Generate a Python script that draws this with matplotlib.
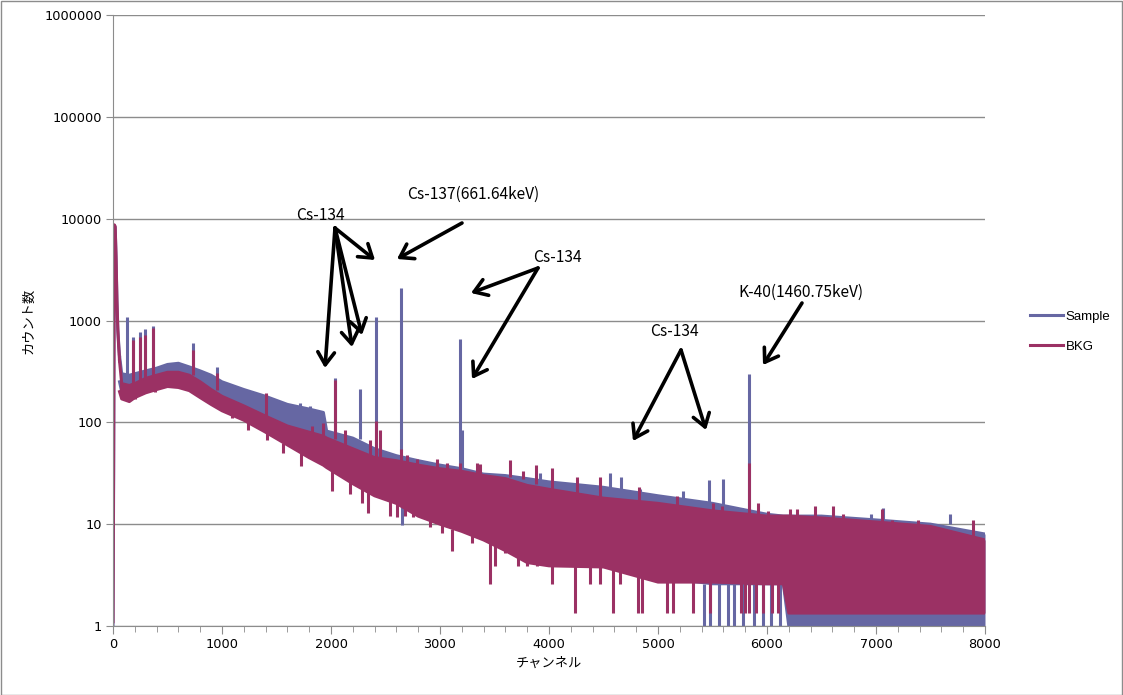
import matplotlib
matplotlib.use("Agg")
import matplotlib.pyplot as plt
from matplotlib.patches import Rectangle
from matplotlib.ticker import FixedLocator, MultipleLocator, NullLocator

W, H = 1123, 695

# ---------- data ----------
# lead-in (x-ray region at the very start)
lead_ch = [0, 6, 12, 20, 28, 36, 44, 52, 60]
sample_lead = [1.0, 30, 8500, 8200, 4000, 1500, 800, 600, 450]
bkg_lead = [1.1, 60, 8700, 8400, 4200, 1600, 850, 550, 400]

# continuum: top / bottom of the noisy trace at knot channels
band_ch = [60, 80, 150, 200, 300, 400, 500, 600, 700, 800,
           900, 1000, 1200, 1400, 1600, 1800, 1930, 1960,
           2200, 2400, 2600, 2800, 3000, 3200, 3400, 3600, 3800, 4000,
           4500, 5000, 5500, 6000, 6150, 6200, 6500, 7000, 7500, 8000]
sample_hi = [450, 300, 290, 300, 320, 340, 370, 380, 350, 320,
             290, 250, 210, 180, 150, 135, 125, 82,
             70, 55, 47, 42, 38, 35, 31, 30, 28, 26,
             23, 19, 16, 12.5, 12, 12, 12, 11, 10, 8]
sample_lo = [250, 200, 190, 200, 215, 230, 245, 240, 225, 195,
             170, 150, 120, 95, 75, 60, 52, 45,
             33, 25, 20, 15, 12, 10, 9, 7.5, 6.5, 5.5,
             4.2, 3.0, 2.6, 2.6, 2.6, 1.0, 1.0, 1.0, 1.0, 1.0]
bkg_hi = [400, 240, 230, 240, 270, 290, 310, 310, 290, 250,
          210, 180, 145, 115, 92, 80, 73, 70,
          55, 45, 42, 38, 35, 33, 30, 28, 24, 22,
          18, 16, 13.5, 12, 12, 12, 11.5, 10.5, 9.5, 7]
bkg_lo = [200, 170, 160, 175, 195, 210, 225, 220, 205, 175,
          150, 130, 105, 80, 60, 45, 38, 36,
          25, 19, 16, 12, 10, 8.5, 7, 5.5, 4.2, 3.9,
          3.8, 2.7, 2.7, 2.6, 2.6, 1.34, 1.34, 1.34, 1.34, 1.34]

# single-channel excursions above the band: channel, from, to
sample_up_ch = [125, 180, 248, 294, 370, 735, 950, 1715, 1807, 2037, 2266, 2413,
                2642, 3183, 3200, 3917, 4560, 4657, 4835, 5233, 5465, 5600, 5767,
                5835, 6958, 7061, 7678]
sample_up_lo = [300, 290, 300, 310, 340, 360, 280, 140, 130, 75, 68, 55,
                47, 35, 35, 27, 23, 22, 20, 17, 15, 14.5, 13.5,
                13, 11, 11, 10]
sample_up_hi = [1085, 690, 765, 830, 880, 600, 350, 155, 145, 271, 212, 1090,
                2100, 660, 84, 32, 32, 29, 22, 21, 27, 28, 14.5,
                300, 12.5, 14.5, 12.5]
# excursions below the band
sample_dn_ch = [2650, 5420, 5480, 5560, 5640, 5700, 5780, 5880, 5960, 6040, 6120]
sample_dn_lo = [9.8, 1.0, 1.0, 1.0, 1.0, 1.0, 1.0, 1.0, 1.0, 1.0, 1.0]
sample_dn_hi = [47, 2.6, 2.6, 2.6, 2.6, 2.6, 2.6, 2.6, 2.6, 2.6, 2.6]

bkg_up_ch = [180, 248, 294, 370, 735, 950, 1405, 1823, 1927, 2037, 2127, 2357,
             2413, 2449, 2642, 2694, 2786, 2969, 3060, 3183, 3337, 3367, 3642,
             3765, 3880, 4030, 4254, 4468, 4830, 5170, 5507, 5583, 5835, 5920,
             6012, 6211, 6272, 6440, 6609, 6700, 7051, 7143, 7388, 7891]
bkg_up_lo = [230, 240, 260, 290, 290, 210, 115, 80, 72, 68, 60, 47,
             45, 45, 42, 41, 38, 35, 34, 33, 31, 31, 29,
             28, 25, 22, 20, 18, 16, 15.5, 13.5, 13.5, 13, 12,
             12, 12, 12, 11.5, 11.3, 11, 10.5, 10.3, 10, 7.5]
bkg_up_hi = [650, 690, 720, 845, 515, 305, 195, 92, 99, 260, 84, 67,
             103, 84, 55, 48, 44, 44, 40, 40, 40, 39, 43,
             33, 38, 36, 29, 29, 23, 19, 16, 15, 40, 16,
             13.5, 14, 14, 15, 15, 12.5, 14, 11, 11, 11]
bkg_dn_ch = [134, 202, 385, 844, 966, 1089, 1242, 1410, 1563, 1725, 2006, 2175,
             2282, 2340, 2541, 2602, 2678, 2755, 2908, 3015, 3107, 3290, 3459,
             3505, 3597, 3719, 3795, 3887, 4024, 4238, 4376, 4468, 4590, 4651,
             4820, 4850, 5080, 5141, 5324, 5477, 5760, 5800, 5835, 5900, 5960,
             6050, 6100]
bkg_dn_lo = [166, 170, 200, 178, 138, 110, 84, 67, 50, 37, 21, 20,
             16, 12.8, 12, 11.8, 12, 11.8, 9.3, 8.2, 5.4, 6.5, 2.6,
             3.9, 5.2, 3.9, 3.9, 3.9, 2.6, 1.34, 2.6, 2.6, 1.34, 2.6,
             1.34, 1.34, 1.34, 1.34, 1.34, 1.34, 1.34, 1.34, 1.34, 1.34, 1.34,
             1.34, 1.34]
bkg_dn_hi = [200, 200, 230, 200, 170, 130, 100, 80, 62, 50, 35, 26,
             23, 21, 18, 17, 15, 13, 11, 10, 9, 8.5, 7.5,
             7.2, 6.6, 6.0, 5.6, 5.0, 4.5, 3.9, 3.9, 3.8, 3.6, 3.5,
             3.2, 3.1, 2.8, 2.8, 2.7, 2.7, 2.7, 2.7, 2.7, 2.7, 2.7,
             2.7, 2.7]

y_ticks = [1, 10, 100, 1000, 10000, 100000, 1000000]

labels = ["Cs-134", "Cs-137(661.64keV)", "Cs-134", "Cs-134", "K-40(1460.75keV)"]
label_px = [(320, 215), (473, 194), (557, 257), (674, 331), (801, 292)]
arrow_px = [((335, 228), (325, 368)), ((335, 228), (352, 347)),
            ((335, 228), (362, 335)), ((335, 228), (375, 260)),
            ((462, 223), (397, 259)),
            ((538, 268), (471, 293)), ((538, 268), (472, 379)),
            ((681, 350), (633, 441)), ((681, 350), (706, 430)),
            ((802, 303), (763, 365))]

sample_color = "#6667A3"
bkg_color = "#9B3164"
lw = 2.2

fig = plt.figure(figsize=(W / 100, H / 100), dpi=100)
ax = fig.add_axes([113 / W, 1 - 626 / H, (985 - 113) / W, (626 - 15) / H])

series = [
    (sample_lead, sample_hi, sample_lo, sample_up_ch, sample_up_lo, sample_up_hi,
     sample_dn_ch, sample_dn_lo, sample_dn_hi, sample_color, 2),
    (bkg_lead, bkg_hi, bkg_lo, bkg_up_ch, bkg_up_lo, bkg_up_hi,
     bkg_dn_ch, bkg_dn_lo, bkg_dn_hi, bkg_color, 3),
]
# Sample underneath, BKG drawn on top
for lead, hi, lo, uc, ul, uh, dc, dl, dh, col, z in series:
    ax.plot(lead_ch, lead, color=col, lw=lw, zorder=z)
    ax.fill_between(band_ch, lo, hi, color=col, lw=0, zorder=z)
    ax.plot(band_ch, hi, color=col, lw=lw, zorder=z)
    ax.plot(band_ch, lo, color=col, lw=lw, zorder=z)
    ax.vlines(uc, ul, uh, color=col, lw=lw, zorder=z)
    ax.vlines(dc, dl, dh, color=col, lw=lw, zorder=z)

ax.set_yscale("log")
ax.set_xlim(0, 8000)
ax.set_ylim(1, 1000000)
ax.yaxis.set_major_locator(FixedLocator(y_ticks))
ax.yaxis.set_minor_locator(NullLocator())
ax.set_yticklabels([str(v) for v in y_ticks])
ax.xaxis.set_major_locator(MultipleLocator(1000))
ax.xaxis.set_minor_locator(MultipleLocator(200))

ax.grid(axis="y", which="major", color="#8c8c8c", lw=1)
ax.set_axisbelow(True)
for s in ["top", "right"]:
    ax.spines[s].set_visible(False)
for s in ["left", "bottom"]:
    ax.spines[s].set_color("#8c8c8c")
    ax.spines[s].set_zorder(5)
ax.tick_params(axis="both", which="both", direction="out", color="#8c8c8c",
               labelsize=9.3, pad=3)
ax.tick_params(axis="x", which="major", length=6)
ax.tick_params(axis="x", which="minor", length=4)
ax.tick_params(axis="y", which="major", length=5)
for t in ax.get_xticklabels() + ax.get_yticklabels():
    t.set_fontfamily("DejaVu Sans")

ax.set_xlabel("チャンネル", fontfamily="Noto Sans CJK JP", fontsize=9.5, labelpad=4)
ax.set_ylabel("カウント数", fontfamily="Noto Sans CJK JP", fontsize=9.5, labelpad=6)

# annotations (placed in figure pixels, y from top)
for txt, (px, py) in zip(labels, label_px):
    fig.text(px / W, 1 - py / H, txt, ha="center", va="center",
             fontsize=11.2, fontfamily=["Noto Sans CJK JP", "DejaVu Sans"])
for (p0, p1) in arrow_px:
    ax.annotate("", xy=(p1[0], H - p1[1]), xytext=(p0[0], H - p0[1]),
                xycoords="figure pixels", textcoords="figure pixels",
                arrowprops=dict(arrowstyle="->,head_length=0.45,head_width=0.3",
                                color="black", lw=2.6, shrinkA=0, shrinkB=0,
                                mutation_scale=20), zorder=10)

handles = [plt.Line2D([], [], color=sample_color, lw=lw),
           plt.Line2D([], [], color=bkg_color, lw=lw)]
fig.legend(handles, ["Sample", "BKG"], loc="center left",
           bbox_to_anchor=(1030 / W, 1 - 331.5 / H), frameon=False,
           prop={"family": "Liberation Sans", "size": 9.5},
           handlelength=2.5, handletextpad=0.2, labelspacing=1.35,
           borderpad=0, borderaxespad=0)

fig.patches.append(Rectangle((0.5 / W, 0.5 / H), 1 - 1.5 / W, 1 - 1.5 / H,
                             transform=fig.transFigure, fill=False,
                             edgecolor="#8c8c8c", lw=1))

fig.savefig("out.png", dpi=100)
